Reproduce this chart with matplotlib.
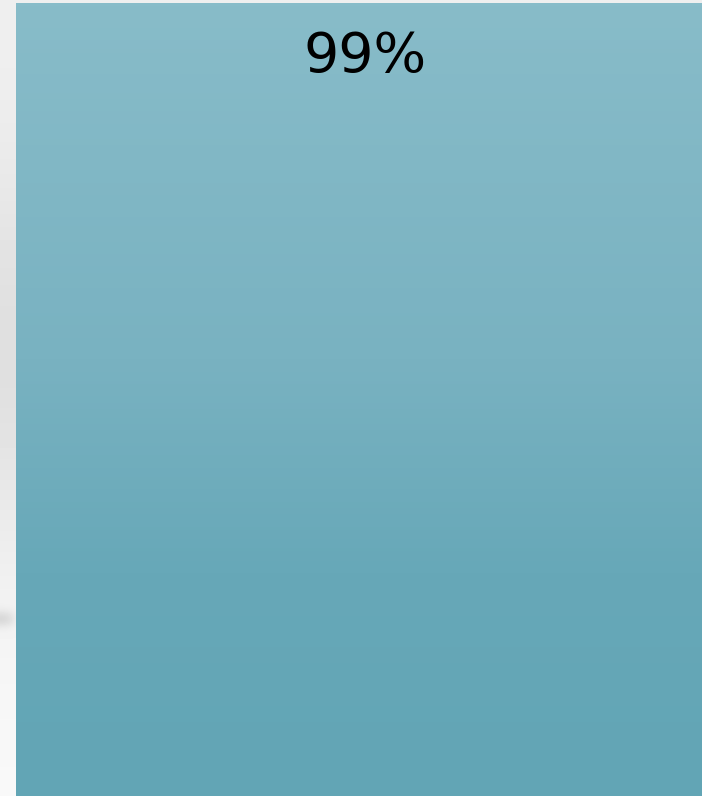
import numpy as np
import matplotlib.pyplot as plt
from matplotlib.colors import LinearSegmentedColormap

# data
categories = ['']
values = [99]
labels = ['99%']

W, H = 702, 796
fig = plt.figure(figsize=(W/100, H/100), dpi=100)

# gray page background with soft shading
bg = fig.add_axes([0, 0, 1, 1])
yy = np.linspace(0, 1, 200)[:, None]
xx = np.linspace(0, 1, 100)[None, :]
shade = 0.94 - 0.08*np.exp(-((yy - 0.45)/0.25)**2) + 0.035*yy
shade = shade + 0*xx
blob = 0.12*np.exp(-((xx*W - 2)/8)**2 - ((yy*H - 620)/8)**2)
shade = shade - blob
bg.imshow(shade, cmap='gray', vmin=0, vmax=1, aspect='auto',
          extent=[0, 1, 1, 0], interpolation='bicubic')
bg.axis('off')

# bar with vertical gradient
ax = fig.add_axes([16/W, 0, 1 - 16/W, 1])
ax.patch.set_alpha(0)
x = np.arange(len(categories))
bars = ax.bar(x, values, width=1.0, color='none', edgecolor='none')
ax.axis('off')

cmap = LinearSegmentedColormap.from_list(
    'teal', [(0, '#62a5b5'), (0.28, '#67a8b8'), (0.55, '#79b2c1'), (1, '#88bcc9')])
grad = np.linspace(0, 1, 256)[:, None]
for b, lab in zip(bars, labels):
    x0, y0 = b.get_x(), b.get_y()
    im = ax.imshow(grad, cmap=cmap, aspect='auto', origin='lower',
                   extent=[x0, x0 + b.get_width(), y0, y0 + b.get_height()])
    im.set_clip_path(b)
    ax.text(b.get_x() + b.get_width()/2, 0.9095, lab,
            transform=ax.get_xaxis_transform(), ha='center', va='baseline',
            fontsize=40, color='black')

ax.set_xlim(-0.5, 0.483)
ax.set_ylim(0, 99.4)
fig.savefig('out.png', dpi=100)
